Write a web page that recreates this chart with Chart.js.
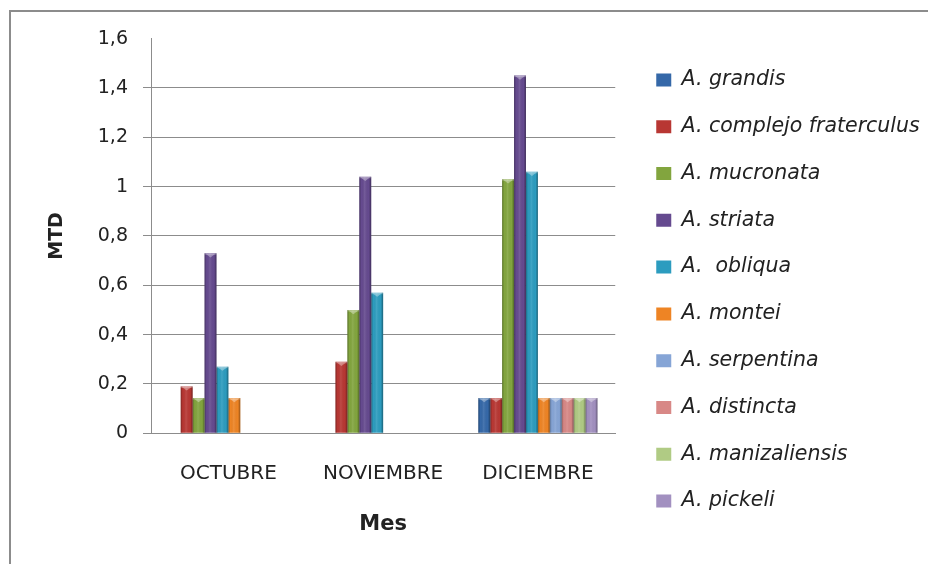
<!DOCTYPE html>
<html><head><meta charset="utf-8">
<script src="https://cdn.jsdelivr.net/npm/chart.js@4/dist/chart.umd.min.js"></script>
<style>
html,body{margin:0;padding:0;background:#fff;}
#wrap{position:relative;width:928px;height:564px;overflow:hidden;background:#fff;}
#frame{position:absolute;left:9px;top:10px;width:1000px;height:1000px;border-top:2px solid #8c8c8c;border-left:2px solid #8c8c8c;}
canvas{position:absolute;left:0;top:0;}
</style></head><body>
<div id="wrap"><div id="frame"></div><canvas id="c" width="928" height="564"></canvas></div>
<script>
// ---- data ----
const categories = ['OCTUBRE', 'NOVIEMBRE', 'DICIEMBRE'];
const seriesNames = ['A. grandis', 'A. complejo fraterculus', 'A. mucronata', 'A. striata', 'A.  obliqua',
  'A. montei', 'A. serpentina', 'A. distincta', 'A. manizaliensis', 'A. pickeli'];
const grandis       = [0,     0,    0.143];
const fraterculus   = [0.19,  0.29, 0.143];
const mucronata     = [0.143, 0.50, 1.03];
const striata       = [0.73,  1.04, 1.45];
const obliqua       = [0.27,  0.57, 1.06];
const montei        = [0.143, 0,    0.143];
const serpentina    = [0,     0,    0.143];
const distincta     = [0,     0,    0.143];
const manizaliensis = [0,     0,    0.143];
const pickeli       = [0,     0,    0.143];
const yTickLabels = ['0', '0,2', '0,4', '0,6', '0,8', '1', '1,2', '1,4', '1,6'];
const yMin = 0, yMax = 1.6, yStep = 0.2;

// ---- styles ----
const seriesValues = [grandis, fraterculus, mucronata, striata, obliqua, montei, serpentina, distincta, manizaliensis, pickeli];
const colors = ['#3568A8', '#B83733', '#82A53E', '#654A8F', '#2C9CBF', '#EE8424', '#86A5D6', '#D88886', '#B0CB84', '#A290C0'];
const FONT = '"DejaVu Sans", sans-serif';
const TXT = '#222';
const GRID = '#8c8c8c';

// legend geometry
const legendFont = 20.5, legendPad = 26.3, boxW = 15, boxH = 13;
const mctx = document.createElement('canvas').getContext('2d');
mctx.font = 'italic ' + legendFont + 'px ' + FONT;
const maxTextW = Math.max(...seriesNames.map(s => mctx.measureText(s).width));
const legendLeft = 656 - legendPad;
const legendWidth = legendPad + boxW + legendFont + maxTextW;
const padRight = 928 - legendLeft - legendWidth;

const chartLeft = 151, chartRight = 615, chartTop = 38.6, chartBottom = 433.3;
const padL = 10, padB = 21.6;

const bevel = {
  id: 'bevel',
  afterDatasetsDraw(chart) {
    const ctx = chart.ctx;
    chart.data.datasets.forEach((ds, di) => {
      const meta = chart.getDatasetMeta(di);
      meta.data.forEach(el => {
        const {x, y, base, width} = el.getProps(['x', 'y', 'base', 'width'], true);
        const h = base - y;
        if (!(h > 1)) return;
        const l = x - width / 2, r = x + width / 2;
        ctx.save();
        const g = ctx.createLinearGradient(l, 0, r, 0);
        g.addColorStop(0, 'rgba(0,0,0,0.30)');
        g.addColorStop(0.18, 'rgba(0,0,0,0.0)');
        g.addColorStop(0.45, 'rgba(255,255,255,0.10)');
        g.addColorStop(0.8, 'rgba(0,0,0,0.0)');
        g.addColorStop(1, 'rgba(0,0,0,0.38)');
        ctx.fillStyle = g;
        ctx.fillRect(l, y, width, h);
        const th = Math.min(width * 0.35, h);
        ctx.beginPath();
        ctx.moveTo(l + 1, y + 0.5); ctx.lineTo(r - 1, y + 0.5); ctx.lineTo(x, y + th); ctx.closePath();
        ctx.fillStyle = 'rgba(255,255,255,0.35)';
        ctx.fill();
        ctx.fillStyle = 'rgba(255,255,255,0.25)';
        ctx.fillRect(l, y, width, 1.5);
        ctx.restore();
      });
    });
  }
};

new Chart(document.getElementById('c'), {
  type: 'bar',
  data: {
    labels: categories,
    datasets: seriesNames.map((name, i) => ({
      label: name,
      data: seriesValues[i],
      backgroundColor: colors[i],
      borderWidth: 0,
      categoryPercentage: 0.77,
      barPercentage: 1.0,
      yAxisID: 'y'
    }))
  },
  options: {
    responsive: false,
    animation: false,
    devicePixelRatio: 1,
    layout: { padding: { left: padL, top: chartTop, right: padRight, bottom: padB } },
    plugins: {
      tooltip: { enabled: false },
      legend: {
        position: 'right',
        align: 'center',
        maxWidth: 500,
        labels: {
          font: { family: FONT, size: legendFont, style: 'italic' },
          color: TXT,
          boxWidth: boxW,
          boxHeight: boxH,
          padding: legendPad
        }
      }
    },
    scales: {
      x: {
        grid: { display: false, drawTicks: false },
        border: { display: true, color: GRID, width: 1 },
        ticks: { font: { family: FONT, size: 20 }, color: TXT, padding: 28.7, maxRotation: 0 },
        title: { display: true, text: 'Mes', font: { family: FONT, size: 21, weight: 'bold' }, color: TXT, padding: { top: 0, bottom: 4.8 } },
        afterFit: s => { s.height = 564 - padB - chartBottom; }
      },
      y: {
        position: 'left',
        min: yMin, max: yMax,
        ticks: {
          stepSize: yStep,
          font: { family: FONT, size: 19 }, color: TXT, padding: 15,
          callback: (v, i) => yTickLabels[i]
        },
        grid: {
          color: c => (c.tick && c.tick.value >= yMax - 1e-9) ? 'rgba(0,0,0,0)' : GRID,
          tickColor: c => (c.tick && c.tick.value >= yMax - 1e-9) ? 'rgba(0,0,0,0)' : GRID,
          tickLength: 8, lineWidth: 1
        },
        border: { display: true, color: GRID, width: 1 },
        title: { display: true, text: 'MTD', font: { family: FONT, size: 19, weight: 'bold' }, color: TXT, padding: { top: 36.1, bottom: 0 } },
        afterFit: s => { s.width = chartLeft - padL; }
      },
      yR: {
        type: 'linear',
        position: 'right',
        display: true,
        grid: { display: false, drawTicks: false },
        border: { display: false },
        ticks: { display: false },
        afterFit: s => { s.width = legendLeft - chartRight; }
      }
    }
  },
  plugins: [bevel]
});
</script>
</body></html>
